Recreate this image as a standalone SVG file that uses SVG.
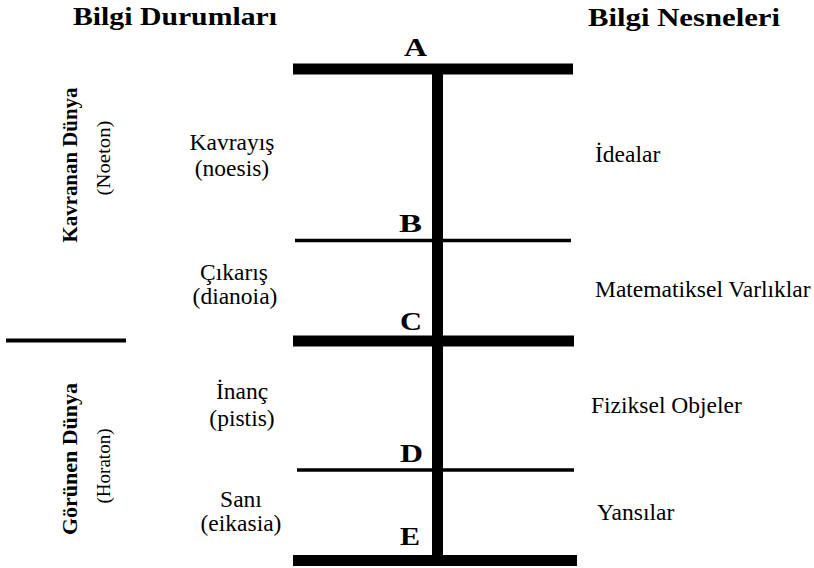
<svg xmlns="http://www.w3.org/2000/svg" width="814" height="568" viewBox="0 0 814 568">
<style>
text{font-family:"Liberation Serif","Times New Roman","DejaVu Serif",serif;fill:#000}
.b{font-weight:bold}
.h{font-size:26px}
.l{font-size:26px}
.s{font-size:23.5px}
.c{text-anchor:middle}
.v{font-size:22px}
.p{font-size:18px}
.thick{stroke:#000;stroke-width:11;fill:none}
.thin{stroke:#000;stroke-width:3.5;fill:none}
</style>
<rect width="814" height="568" fill="#fff"/>
<g id="titles">
<text class="b h" x="73" y="25" textLength="204" lengthAdjust="spacingAndGlyphs">Bilgi Durumları</text>
<text class="b h" x="588" y="26" textLength="192" lengthAdjust="spacingAndGlyphs">Bilgi Nesneleri</text>
</g>
<g id="connectors">
<line class="thick" x1="293" y1="69" x2="573" y2="69"/>
<line class="thick" x1="437.5" y1="69" x2="437.5" y2="560"/>
<line class="thin" x1="295" y1="240.5" x2="571" y2="240.5"/>
<line class="thick" x1="293" y1="341" x2="574" y2="341"/>
<line class="thin" x1="297" y1="470" x2="574" y2="470"/>
<line class="thick" x1="293" y1="560.5" x2="577" y2="560.5"/>
<line stroke="#000" stroke-width="4" x1="6" y1="340.5" x2="126" y2="340.5"/>
</g>
<g id="point-labels">
<text class="b l" x="404" y="56" textLength="23" lengthAdjust="spacingAndGlyphs">A</text>
<text class="b l" x="399" y="232" textLength="23" lengthAdjust="spacingAndGlyphs">B</text>
<text class="b l" x="400" y="330" textLength="22" lengthAdjust="spacingAndGlyphs">C</text>
<text class="b l" x="400" y="462" textLength="23" lengthAdjust="spacingAndGlyphs">D</text>
<text class="b l" x="400" y="545" textLength="20" lengthAdjust="spacingAndGlyphs">E</text>
</g>
<g id="world-kavranan">
<text class="b v" transform="translate(77,165) rotate(-90)" text-anchor="middle" textLength="155" lengthAdjust="spacingAndGlyphs">Kavranan Dünya</text>
<text class="p" transform="translate(110,158) rotate(-90)" text-anchor="middle" textLength="75" lengthAdjust="spacingAndGlyphs">(Noeton)</text>
</g>
<g id="world-gorunen">
<text class="b v" transform="translate(77,459) rotate(-90)" text-anchor="middle" textLength="152" lengthAdjust="spacingAndGlyphs">Görünen Dünya</text>
<text class="p" transform="translate(110,466) rotate(-90)" text-anchor="middle" textLength="75" lengthAdjust="spacingAndGlyphs">(Horaton)</text>
</g>
<g id="state-noesis">
<text class="s c" x="232" y="150">Kavrayış</text>
<text class="s c" x="232" y="176">(noesis)</text>
</g>
<g id="state-dianoia">
<text class="s c" x="234" y="280">Çıkarış</text>
<text class="s c" x="235" y="304">(dianoia)</text>
</g>
<g id="state-pistis">
<text class="s c" x="242" y="399">İnanç</text>
<text class="s c" x="242" y="426">(pistis)</text>
</g>
<g id="state-eikasia">
<text class="s c" x="241" y="507">Sanı</text>
<text class="s c" x="241" y="531">(eikasia)</text>
</g>
<g id="object-idealar">
<text class="s" x="595" y="162">İdealar</text>
</g>
<g id="object-matematiksel">
<text class="s" x="595" y="297">Matematiksel Varlıklar</text>
</g>
<g id="object-fiziksel">
<text class="s" x="591" y="413">Fiziksel Objeler</text>
</g>
<g id="object-yansilar">
<text class="s" x="597" y="520">Yansılar</text>
</g>
</svg>
